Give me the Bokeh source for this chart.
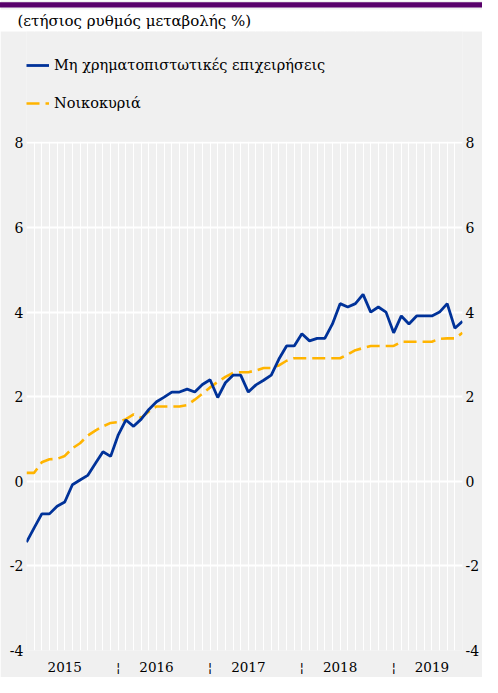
from bokeh.plotting import figure
from bokeh.models import (Legend, LegendItem, LinearAxis, FixedTicker,
                          SingleIntervalTicker, Range1d, ColumnDataSource,
                          Title, BoxAnnotation)
from bokeh.embed import file_html
from bokeh.resources import INLINE

# ---------------- data ----------------
title_text = "(ετήσιος ρυθμός μεταβολής %)"
name_nfc = "Μη χρηματοπιστωτικές επιχειρήσεις"
name_hh = "Νοικοκυριά"
years = ["2015", "2016", "2017", "2018", "2019"]
months = [f"{y}-{m:02d}" for y in range(2015, 2020) for m in range(1, 13)][:58]

nfc = [-1.44, -1.10, -0.77, -0.77, -0.59, -0.49, -0.08, 0.03, 0.14, 0.42,
       0.70, 0.59, 1.10, 1.45, 1.30, 1.47, 1.70, 1.88, 1.99, 2.11,
       2.11, 2.18, 2.11, 2.29, 2.40, 1.98, 2.33, 2.51, 2.51, 2.11,
       2.28, 2.39, 2.51, 2.89, 3.20, 3.20, 3.49, 3.32, 3.38, 3.38,
       3.72, 4.20, 4.12, 4.20, 4.42, 4.00, 4.12, 4.00, 3.51, 3.91,
       3.72, 3.91, 3.91, 3.91, 4.00, 4.20, 3.62, 3.78]

hh = [0.20, 0.20, 0.45, 0.52, 0.53, 0.60, 0.78, 0.90, 1.08, 1.20,
      1.30, 1.38, 1.40, 1.47, 1.58, 1.50, 1.65, 1.77, 1.77, 1.77,
      1.77, 1.80, 1.93, 2.07, 2.22, 2.35, 2.47, 2.56, 2.58, 2.58,
      2.62, 2.68, 2.68, 2.74, 2.85, 2.91, 2.91, 2.91, 2.91, 2.91,
      2.91, 2.91, 3.00, 3.10, 3.15, 3.20, 3.20, 3.20, 3.20, 3.30,
      3.30, 3.30, 3.30, 3.30, 3.37, 3.38, 3.38, 3.51]

y_ticks = [-4, -2, 0, 2, 4, 6, 8]
y_tick_labels = ["-4", "-2", "0", "2", "4", "6", "8"]

# ---------------- styling / layout ----------------
BLUE = "#003299"
YELLOW = "#ffb400"
PURPLE = "#58006a"
GREY = "#f0f0f0"
SERIF = "DejaVu Serif"
W, H = 482, 677
TOP, BOTTOM, LEFT, RIGHT = 31, 26, 26, 17     # borders around the frame
Y8_PX = 142.6                                  # canvas px of the "8" gridline
ppu = (H - BOTTOM - Y8_PX) / (y_ticks[-1] - y_ticks[0])
y_top = y_ticks[-1] + (Y8_PX - TOP) / ppu      # frame extends above the plot area

idx = list(range(len(months)))
src = ColumnDataSource(dict(x=idx, nfc=nfc, hh=hh, month=months))

label_pos = {months.index(f"{y}-06"): y for y in years}
sep_pos = {months.index(f"{y}-01"): "¦" for y in years[1:]}
overrides = {**label_pos, **sep_pos}

# purple rule on top (outermost title) and white heading band below it
# padding order: (left, right, top, bottom)
p = figure(width=W, height=H, x_range=Range1d(0, len(months) - 1),
           y_range=Range1d(y_ticks[0], y_top), output_backend="svg",
           toolbar_location=None,
           background_fill_color=GREY, border_fill_color=GREY,
           outline_line_color=None, min_border_left=LEFT,
           min_border_right=RIGHT, min_border_top=TOP,
           min_border_bottom=BOTTOM,
           title=Title(text="\u00a0", align="left", offset=-30,
                       text_font_size="2px", background_fill_color=PURPLE,
                       standoff=0, padding=(40, 700, 2, 1)))
p.add_layout(Title(text=title_text, align="left", offset=-29,
                   text_font=SERIF, text_font_size="15px",
                   text_font_style="normal", text_color="black",
                   background_fill_color="white", standoff=0,
                   padding=(20, 700, 2, 2)), "above")

# hide the grid in the legend area above the plot
p.add_layout(BoxAnnotation(bottom=y_ticks[-1] + 1.2 / ppu, fill_color=GREY,
                           fill_alpha=1, line_color=None))

r_hh = p.line("x", "hh", source=src, line_color=YELLOW, line_width=2.6,
              line_dash="13 6")
r_nfc = p.line("x", "nfc", source=src, line_color=BLUE, line_width=2.8)

p.xgrid.ticker = SingleIntervalTicker(interval=1, num_minor_ticks=0)
p.xgrid.grid_line_color = "white"
p.xgrid.grid_line_width = 1
p.ygrid.ticker = FixedTicker(ticks=y_ticks)
p.ygrid.grid_line_color = "white"
p.ygrid.grid_line_width = 2

xa = p.xaxis[0]
xa.ticker = FixedTicker(ticks=sorted(overrides.keys()))
xa.major_label_overrides = overrides
xa.axis_line_color = None
xa.major_tick_line_color = None
xa.minor_tick_line_color = None
xa.major_tick_out = 0
xa.major_tick_in = 0
xa.minor_tick_out = 0
xa.major_label_standoff = 8
xa.major_label_text_font = SERIF
xa.major_label_text_font_size = "13.5px"
xa.major_label_text_color = "black"

ya = p.yaxis[0]
ra = LinearAxis()
p.add_layout(ra, "right")
for ax in (ya, ra):
    ax.ticker = FixedTicker(ticks=y_ticks)
    ax.major_label_overrides = dict(zip(y_ticks, y_tick_labels))
    ax.axis_line_color = None
    ax.major_tick_line_color = None
    ax.minor_tick_line_color = None
    ax.major_tick_out = 0
    ax.major_tick_in = 0
    ax.minor_tick_out = 0
    ax.major_label_standoff = 3
    ax.major_label_text_font = SERIF
    ax.major_label_text_font_size = "14px"
    ax.major_label_text_color = "black"

LEG_ITEM, LEG_GAP = 24, 14
leg_bottom_px = 103.6 + LEG_ITEM / 2
legend = Legend(items=[LegendItem(label=name_nfc, renderers=[r_nfc]),
                       LegendItem(label=name_hh, renderers=[r_hh])],
                location=(0, H - BOTTOM - leg_bottom_px),
                orientation="vertical",
                label_text_font=SERIF, label_text_font_size="14.5px",
                label_text_color="black",
                glyph_width=23, glyph_height=LEG_ITEM, label_height=LEG_ITEM,
                spacing=LEG_GAP, padding=0, margin=0, label_standoff=5,
                background_fill_alpha=0, border_line_color=None)
p.add_layout(legend, "center")

open("out.html", "w").write(file_html(p, INLINE))
